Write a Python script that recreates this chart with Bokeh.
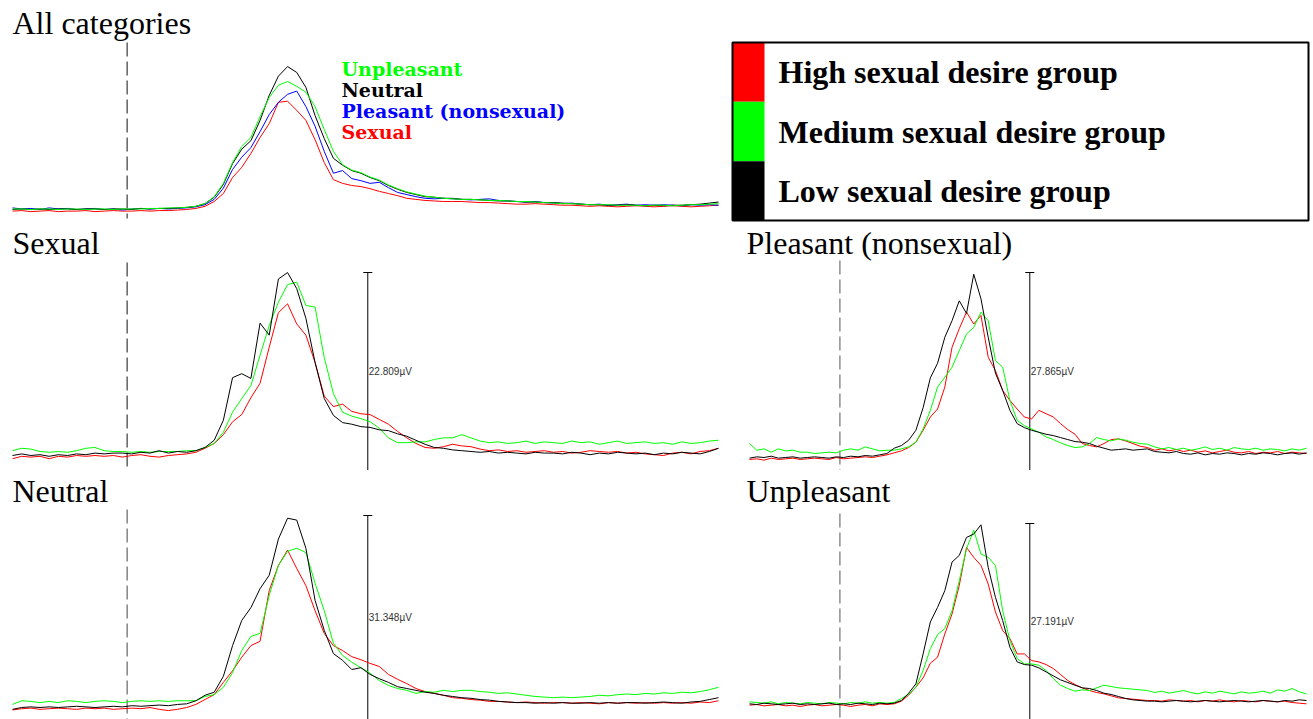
from bokeh.plotting import figure
from bokeh.layouts import column, row
from bokeh.models import Range1d, Label
from bokeh.core.properties import value
from bokeh.embed import file_html
from bokeh.resources import INLINE

# Sample times of the averaged epochs (ms, stimulus onset at 0)
TIME_MS = list(range(-200, 1033, 16))

# "All categories": grand averages per picture category (µV)
ALL_UNPLEASANT = [
    0.1, 0.1, 0.0, 0.1, 0.1, 0.0, 0.1, 0.1, 0.0, 0.1,
    0.1, 0.0, 0.1, 0.1, 0.1, 0.2, 0.2, 0.3, 0.3, 0.4,
    0.6, 1.1, 2.4, 4.9, 8.8, 11.8, 13.5, 17.4, 21.0, 23.3,
    24.0, 23.1, 22.0, 19.3, 15.0, 10.9, 8.4, 7.4, 6.9, 6.1,
    5.5, 4.6, 3.9, 3.3, 2.9, 2.5, 2.3, 2.1, 2.0, 1.9,
    1.9, 1.8, 1.7, 1.7, 1.6, 1.5, 1.5, 1.4, 1.3, 1.2,
    1.1, 1.1, 1.0, 0.9, 0.9, 0.9, 0.8, 0.8, 0.8, 0.7,
    0.8, 0.8, 0.7, 0.8, 0.9, 0.9, 1.0, 1.1]
ALL_NEUTRAL = [
    0.0, 0.1, 0.0, 0.1, 0.0, 0.1, 0.1, 0.0, 0.1, 0.1,
    0.0, 0.1, 0.1, 0.0, 0.2, 0.1, 0.2, 0.2, 0.3, 0.4,
    0.6, 1.1, 2.3, 4.7, 8.6, 11.3, 12.9, 16.7, 21.4, 25.0,
    26.8, 25.7, 22.9, 17.6, 13.3, 9.6, 8.3, 7.3, 6.8, 6.0,
    5.4, 4.5, 3.8, 3.2, 2.8, 2.4, 2.3, 2.1, 2.1, 1.9,
    1.9, 1.8, 1.7, 1.6, 1.6, 1.5, 1.4, 1.4, 1.3, 1.3,
    1.2, 1.1, 1.0, 0.9, 0.9, 0.8, 0.8, 0.9, 0.8, 0.7,
    0.8, 0.7, 0.8, 0.8, 0.9, 1.0, 1.2, 1.4]
ALL_PLEASANT = [
    0.3, 0.1, 0.2, 0.0, 0.3, 0.1, 0.2, 0.0, 0.1, 0.2,
    0.0, 0.1, -0.1, 0.1, 0.2, 0.1, 0.2, 0.1, 0.2, 0.3,
    0.5, 0.9, 1.9, 4.0, 7.5, 9.8, 11.6, 14.6, 17.8, 20.1,
    21.6, 22.2, 19.3, 15.6, 10.9, 6.8, 7.3, 5.8, 5.4, 4.9,
    5.1, 4.1, 3.2, 2.8, 2.4, 2.1, 2.0, 2.1, 2.0, 1.9,
    1.8, 1.9, 2.0, 1.7, 1.6, 1.5, 1.4, 1.5, 1.3, 1.2,
    1.1, 1.2, 1.0, 0.9, 1.0, 0.8, 0.9, 1.0, 0.8, 0.9,
    0.8, 0.9, 0.8, 0.7, 0.9, 0.8, 0.9, 0.8]
ALL_SEXUAL = [
    -0.3, -0.2, -0.4, -0.3, -0.2, -0.4, -0.3, -0.3, -0.2, -0.4,
    -0.3, -0.2, -0.3, -0.3, -0.2, -0.3, -0.2, -0.2, -0.1, 0.0,
    0.2, 0.6, 1.5, 3.0, 6.0, 7.9, 10.5, 13.5, 16.1, 20.1,
    20.3, 18.6, 16.7, 13.1, 8.8, 5.6, 4.9, 4.5, 4.3, 3.9,
    3.4, 3.0, 2.6, 2.1, 1.9, 1.7, 1.6, 1.5, 1.5, 1.5,
    1.4, 1.3, 1.3, 1.2, 1.1, 1.0, 1.0, 1.1, 1.0, 0.9,
    0.8, 0.8, 0.7, 0.6, 0.7, 0.6, 0.5, 0.6, 0.7, 0.6,
    0.5, 0.6, 0.7, 0.6, 0.5, 0.6, 0.7, 0.8]

# Sexual pictures, by desire group (µV)
SEXUAL_HIGH = [
    -0.4, -0.1, -0.2, -0.1, -0.4, -0.1, -0.2, 0.0, -0.1, 0.0,
    -0.1, 0.0, -0.2, 0.0, 0.1, -0.1, -0.2, 0.0, 0.1, 0.2,
    0.4, 0.9, 1.5, 2.6, 4.2, 5.1, 7.2, 9.0, 13.5, 17.8,
    18.9, 16.4, 15.0, 11.6, 7.4, 6.1, 6.4, 5.5, 5.2, 5.1,
    4.5, 3.9, 3.0, 2.2, 1.5, 1.0, 0.9, 1.1, 1.4, 1.2,
    1.1, 0.8, 0.6, 0.7, 0.5, 0.6, 0.4, 0.5, 0.6, 0.4,
    0.5, 0.3, 0.4, 0.6, 0.5, 0.4, 0.5, 0.3, 0.4, 0.2,
    0.1, 0.0, 0.3, 0.4, 0.2, 0.5, 0.6, 0.9]
SEXUAL_MEDIUM = [
    0.6, 0.9, 0.8, 0.5, 0.4, 0.5, 0.4, 0.6, 0.9, 1.0,
    0.6, 0.5, 0.5, 0.4, 0.5, 0.4, 0.5, 0.5, 0.5, 0.6,
    0.6, 1.0, 1.5, 2.9, 5.4, 7.1, 8.7, 12.5, 16.2, 19.1,
    21.3, 21.6, 18.7, 18.5, 12.2, 7.7, 5.4, 4.9, 4.6, 4.2,
    3.4, 2.2, 1.6, 1.6, 1.7, 1.7, 2.0, 2.2, 2.2, 2.6,
    2.2, 1.8, 1.6, 1.7, 1.5, 1.6, 1.8, 1.5, 1.7, 1.6,
    1.5, 1.8, 1.6, 1.7, 1.4, 1.6, 1.8, 1.5, 1.6, 1.7,
    1.5, 1.6, 1.4, 1.7, 1.5, 1.6, 1.8, 1.9]
SEXUAL_LOW = [
    0.0, 0.2, 0.0, 0.1, -0.1, 0.1, 0.0, 0.2, 0.1, 0.3,
    0.2, 0.3, 0.3, 0.2, 0.4, 0.3, 0.6, 0.3, 0.5, 0.4,
    0.6, 1.0, 1.9, 4.4, 9.7, 10.2, 9.6, 16.5, 15.0, 22.0,
    22.8, 20.8, 17.1, 11.6, 7.1, 5.0, 4.1, 3.9, 3.6, 3.5,
    3.2, 3.1, 2.7, 2.4, 1.9, 1.4, 1.0, 0.9, 0.7, 0.6,
    0.5, 0.4, 0.5, 0.3, 0.4, 0.3, 0.2, 0.4, 0.3, 0.3,
    0.2, 0.4, 0.3, 0.1, 0.3, 0.2, 0.4, 0.3, 0.2, 0.3,
    0.1, 0.3, 0.2, 0.4, 0.3, 0.2, 0.5, 0.9]

# Pleasant (nonsexual) pictures, by desire group (µV)
PLEASANT_HIGH = [
    -0.3, -0.2, -0.4, -0.1, -0.3, -0.2, -0.1, -0.3, -0.2, -0.1,
    -0.2, -0.3, 0.0, -0.2, -0.1, 0.0, 0.1, 0.0, 0.2, 0.4,
    0.7, 1.0, 1.5, 2.3, 4.1, 6.1, 7.3, 10.6, 16.6, 19.4,
    21.9, 20.1, 21.4, 15.1, 13.1, 10.1, 8.6, 7.3, 6.1, 5.8,
    7.1, 6.6, 6.1, 5.1, 4.2, 3.5, 2.1, 1.8, 1.6, 2.1,
    2.7, 2.8, 2.5, 2.1, 1.7, 1.5, 1.1, 1.3, 1.0, 1.2,
    0.9, 1.1, 0.8, 1.0, 0.7, 0.9, 1.1, 0.8, 0.7, 0.9,
    0.6, 0.8, 0.7, 0.9, 0.6, 0.8, 0.7, 0.6]
PLEASANT_MEDIUM = [
    2.1, 1.1, 1.3, 0.8, 1.3, 1.0, 1.1, 0.8, 0.8, 0.6,
    0.7, 0.8, 0.7, 1.1, 1.3, 1.1, 1.6, 1.3, 1.0, 1.1,
    1.1, 1.3, 1.6, 2.3, 4.3, 7.1, 10.6, 12.1, 13.6, 16.1,
    18.6, 19.6, 21.9, 20.6, 14.6, 13.6, 8.6, 5.6, 4.8, 4.3,
    3.8, 3.1, 2.7, 2.2, 1.8, 1.5, 1.6, 2.1, 3.0, 2.7,
    2.5, 2.8, 2.6, 2.3, 2.1, 2.0, 1.6, 1.3, 1.5, 1.2,
    1.4, 1.1, 1.3, 1.6, 1.2, 1.4, 1.1, 1.5, 1.3, 1.2,
    1.4, 1.1, 1.3, 1.2, 1.0, 1.3, 1.1, 1.4]
PLEASANT_LOW = [
    -0.1, 0.1, 0.0, 0.2, -0.1, 0.0, 0.1, -0.1, 0.0, 0.1,
    0.0, -0.1, 0.1, 0.0, 0.2, 0.1, 0.3, 0.2, 0.4, 0.6,
    1.4, 1.8, 2.6, 4.1, 7.5, 12.0, 14.2, 18.1, 20.6, 23.6,
    21.7, 27.6, 23.9, 18.1, 12.7, 10.1, 7.1, 5.1, 4.5, 4.1,
    3.8, 3.5, 3.3, 3.0, 2.7, 2.4, 2.3, 2.1, 1.7, 1.4,
    1.1, 1.2, 1.3, 1.1, 1.2, 1.3, 0.9, 0.8, 0.7, 0.9,
    0.6, 0.5, 0.7, 0.4, 0.6, 0.5, 0.7, 0.6, 0.4, 0.6,
    0.5, 0.7, 0.6, 0.4, 0.6, 0.7, 0.5, 0.7]

# Neutral pictures, by desire group (µV)
NEUTRAL_HIGH = [
    -0.4, -0.2, -0.1, -0.3, -0.2, -0.1, -0.2, -0.3, -0.1, -0.2,
    -0.1, -0.3, -0.2, -0.1, -0.2, 0.0, -0.3, -0.5, -0.3, 0.0,
    0.5, 1.3, 2.1, 4.1, 6.0, 8.2, 10.1, 10.8, 19.1, 23.2,
    25.7, 22.7, 19.9, 15.8, 12.1, 10.1, 9.3, 8.3, 7.8, 7.2,
    6.7, 5.4, 4.6, 3.9, 3.1, 2.6, 2.3, 2.0, 1.6, 1.5,
    1.3, 1.2, 1.0, 1.0, 0.9, 0.8, 0.9, 0.8, 0.7, 0.8,
    0.8, 0.7, 0.8, 0.7, 0.6, 0.8, 0.7, 0.8, 0.7, 0.8,
    0.7, 0.8, 0.7, 0.8, 0.7, 0.9, 0.8, 1.1]
NEUTRAL_MEDIUM = [
    0.5, 1.1, 1.0, 0.8, 1.0, 0.8, 1.1, 1.0, 0.8, 1.0,
    1.1, 1.0, 0.8, 1.0, 1.1, 1.0, 1.1, 1.0, 1.1, 1.1,
    1.1, 1.8, 2.1, 3.3, 5.7, 9.3, 11.6, 12.1, 18.3, 23.2,
    25.5, 26.0, 25.3, 20.3, 15.8, 10.5, 8.5, 7.4, 6.5, 5.6,
    4.4, 3.6, 3.1, 2.8, 2.3, 2.6, 2.5, 2.8, 2.6, 2.8,
    2.8, 2.6, 2.5, 2.3, 2.4, 2.2, 2.0, 1.8, 1.7, 1.6,
    1.7, 1.6, 1.7, 1.8, 2.0, 1.9, 2.1, 2.2, 2.1, 2.3,
    2.2, 2.4, 2.3, 2.5, 2.4, 2.6, 2.9, 3.3]
NEUTRAL_LOW = [
    -0.3, 0.0, 0.1, 0.0, 0.1, 0.0, 0.1, 0.2, 0.1, 0.0,
    0.1, 0.2, 0.1, 0.3, 0.2, 0.3, 0.4, 0.3, 0.5, 0.6,
    1.1, 2.0, 2.5, 5.1, 10.1, 14.2, 16.3, 19.4, 21.6, 27.5,
    30.9, 30.6, 26.0, 17.5, 12.6, 8.8, 7.7, 6.2, 6.5, 5.4,
    4.7, 4.1, 3.4, 3.1, 2.8, 2.5, 2.3, 2.0, 1.8, 1.6,
    1.5, 1.3, 1.2, 1.0, 0.9, 0.8, 0.8, 0.7, 0.8, 0.7,
    0.8, 0.7, 0.7, 0.8, 0.7, 0.8, 0.7, 0.8, 0.8, 0.7,
    0.8, 0.9, 0.8, 0.7, 0.9, 1.0, 1.3, 1.6]

# Unpleasant pictures, by desire group (µV)
UNPLEASANT_HIGH = [
    -0.1, 0.0, -0.2, -0.1, 0.0, -0.2, -0.1, -0.3, -0.1, 0.0,
    -0.2, -0.1, 0.0, -0.1, -0.3, -0.1, 0.0, -0.2, 0.1, 0.0,
    0.1, 0.5, 1.4, 2.6, 4.0, 6.2, 7.1, 10.6, 13.6, 17.9,
    23.6, 22.1, 20.9, 18.1, 13.9, 11.1, 9.9, 7.6, 7.6, 6.6,
    6.4, 6.0, 5.4, 4.5, 3.6, 3.0, 2.5, 2.1, 1.8, 1.6,
    1.3, 1.0, 0.9, 0.8, 0.7, 0.6, 0.6, 0.5, 0.7, 0.6,
    0.5, 0.6, 0.4, 0.6, 0.5, 0.7, 0.5, 0.4, 0.6, 0.5,
    0.4, 0.6, 0.5, 0.4, 0.5, 0.3, 0.2, 0.1]
UNPLEASANT_MEDIUM = [
    0.4, 0.3, 0.2, 0.4, 0.1, 0.3, 0.2, 0.1, 0.3, 0.2,
    0.1, 0.3, 0.2, 0.1, 0.3, 0.2, 0.4, 0.2, 0.3, 0.2,
    0.3, 0.9, 1.5, 2.6, 5.1, 8.4, 10.5, 11.4, 14.1, 18.6,
    23.4, 26.2, 22.6, 22.1, 20.9, 14.1, 9.6, 6.9, 6.1, 6.1,
    5.9, 5.1, 3.9, 2.9, 2.4, 2.0, 2.2, 2.1, 2.5, 2.9,
    2.7, 2.5, 2.4, 2.3, 2.2, 2.1, 1.8, 2.0, 1.7, 1.9,
    2.1, 1.8, 1.6, 1.9, 1.7, 2.0, 1.8, 1.6, 1.9, 1.7,
    1.8, 2.0, 1.7, 2.2, 2.0, 2.4, 1.9, 1.6]
UNPLEASANT_LOW = [
    0.1, 0.0, 0.2, 0.1, 0.0, 0.1, 0.2, 0.0, 0.1, 0.0,
    0.1, 0.2, 0.0, 0.1, 0.0, 0.2, 0.1, 0.0, 0.2, 0.1,
    0.2, 0.6, 1.7, 3.1, 7.6, 12.4, 14.6, 17.1, 21.4, 22.4,
    25.1, 25.6, 27.0, 20.6, 16.1, 12.6, 8.6, 6.4, 6.0, 5.9,
    5.5, 4.9, 4.3, 3.7, 3.3, 2.9, 2.5, 2.4, 2.1, 1.7,
    1.5, 1.2, 0.9, 0.7, 0.6, 0.5, 0.5, 0.4, 0.5, 0.6,
    0.5, 0.4, 0.5, 0.6, 0.5, 0.4, 0.5, 0.6, 0.5, 0.4,
    0.5, 0.6, 0.5, 0.4, 0.6, 0.5, 0.7, 0.6]

GROUP_NAMES = ["High sexual desire group", "Medium sexual desire group",
               "Low sexual desire group"]
GROUP_COLORS = ["#ff0000", "#00ff00", "#000000"]

CATEGORY_NAMES = ["Unpleasant", "Neutral", "Pleasant (nonsexual)", "Sexual"]
CATEGORY_COLORS = ["#00ff00", "#000000", "#0000ff", "#ff0000"]

# amplitude of the calibration bar drawn in each category panel (µV)
SCALE_UV = {"Sexual": 22.809, "Pleasant (nonsexual)": 27.865,
            "Neutral": 31.348, "Unpleasant": 27.191}
SCALE_BAR_MS = 420

LEFT_W, RIGHT_W = 730, 583
ROW_H = (222, 248, 249)
SERIF = "Liberation Serif"


def panel(width, height, x_px, base_px, top_px, top_uv):
    """Figure whose frame fills the whole canvas; time/µV mapped by pixel anchors."""
    t0, t1 = TIME_MS[0], TIME_MS[-1]
    ms_per_px = (t1 - t0) / (x_px[1] - x_px[0])
    uv_per_px = top_uv / (base_px - top_px)

    def fx(px):
        return t0 + (px - x_px[0]) * ms_per_px

    def fy(py):
        return (base_px - py) * uv_per_px

    p = figure(width=width, height=height,
               x_range=Range1d(fx(0), fx(width)),
               y_range=Range1d(fy(height), fy(0)),
               x_axis_type=None, y_axis_type=None,
               toolbar_location=None, output_backend="svg",
               min_border=0, outline_line_color=None,
               background_fill_color="white", border_fill_color="white")
    return p, fx, fy


def add_title(p, fx, fy, text, x_px, mid_px):
    p.add_layout(Label(x=fx(x_px), y=fy(mid_px), text=text,
                       text_font=SERIF, text_font_size="32px",
                       text_baseline="middle", text_color="black"))


def add_onset(p, fy, top_px, bottom_px, color):
    p.segment(x0=[0], y0=[fy(top_px)], x1=[0], y1=[fy(bottom_px)],
              line_color=color, line_width=1, line_dash="14 5")


def add_scale(p, fy, uv, height):
    bottom = fy(height)
    p.segment(x0=[SCALE_BAR_MS], y0=[bottom], x1=[SCALE_BAR_MS], y1=[uv],
              line_color="black", line_width=1)
    p.scatter([SCALE_BAR_MS], [uv], marker="dash", size=9,
              line_color="black", line_width=1)
    p.add_layout(Label(x=SCALE_BAR_MS, y=(uv + bottom) / 2, text=f"{uv:.3f}µV",
                       x_offset=1, text_baseline="middle",
                       text_font="Liberation Sans", text_font_size="10px",
                       text_color="#333333"))


def group_panel(name, series, width, height, x_px, base_px, top_px,
                title_px, onset_top, onset_color):
    uv = SCALE_UV[name]
    p, fx, fy = panel(width, height, x_px, base_px, top_px, uv)
    add_onset(p, fy, onset_top, height, onset_color)
    add_scale(p, fy, uv, height)
    for vals, color in zip(series, GROUP_COLORS):
        p.line(TIME_MS, vals, line_color=color, line_width=1)
    add_title(p, fx, fy, name, title_px[0], title_px[1])
    return p


# --- all categories -------------------------------------------------------
p_all, fx_a, fy_a = panel(LEFT_W, ROW_H[0], (12, 718), 209, 65, 27.0)
add_onset(p_all, fy_a, 42, 218, "#111111")
all_series = [ALL_UNPLEASANT, ALL_NEUTRAL, ALL_PLEASANT, ALL_SEXUAL]
for vals, color in reversed(list(zip(all_series, CATEGORY_COLORS))):
    p_all.line(TIME_MS, vals, line_color=color, line_width=1)
for i, (name, color) in enumerate(zip(CATEGORY_NAMES, CATEGORY_COLORS)):
    p_all.add_layout(Label(x=fx_a(341), y=fy_a(68 + 21 * i), text=name,
                           text_font="DejaVu Serif", text_font_style="bold",
                           text_font_size="19px", text_color=color,
                           text_baseline="middle"))
add_title(p_all, fx_a, fy_a, "All categories", 12, 22)

# --- group legend ---------------------------------------------------------
leg = figure(width=RIGHT_W, height=ROW_H[0],
             x_range=Range1d(0, RIGHT_W), y_range=Range1d(ROW_H[0], 0),
             x_axis_type=None, y_axis_type=None,
             toolbar_location=None, output_backend="svg",
             min_border=0, outline_line_color=None,
             background_fill_color="white", border_fill_color="white")
box_l, box_t, box_r, box_b = 2, 42, 578, 220
row_h = (box_b - box_t) / len(GROUP_NAMES)
tops = [box_t + i * row_h for i in range(len(GROUP_NAMES))]
leg.quad(left=box_l, right=box_l + 32, top=tops,
         bottom=[t + row_h for t in tops],
         fill_color=GROUP_COLORS, line_color=None)
leg.quad(left=[box_l], right=[box_r], top=[box_t], bottom=[box_b],
         fill_color=None, line_color="black", line_width=2)
leg.text(x=box_l + 46, y=[t + row_h / 2 for t in tops], text=GROUP_NAMES,
         text_font=value(SERIF), text_font_style="bold",
         text_font_size="32px", text_baseline="middle", text_color="black")

# --- category panels by group ----------------------------------------------
p_sex = group_panel("Sexual", [SEXUAL_HIGH, SEXUAL_MEDIUM, SEXUAL_LOW],
                    LEFT_W, ROW_H[1], (12, 718), 233, 50, (12, 20), 40,
                    "#111111")
p_pl = group_panel("Pleasant (nonsexual)",
                   [PLEASANT_HIGH, PLEASANT_MEDIUM, PLEASANT_LOW],
                   RIGHT_W, ROW_H[1], (19, 576), 235, 50, (16, 20), 38,
                   "#555555")
p_neu = group_panel("Neutral", [NEUTRAL_HIGH, NEUTRAL_MEDIUM, NEUTRAL_LOW],
                    LEFT_W, ROW_H[2], (12, 718), 237, 45, (12, 20), 39,
                    "#444444")
p_un = group_panel("Unpleasant",
                   [UNPLEASANT_HIGH, UNPLEASANT_MEDIUM, UNPLEASANT_LOW],
                   RIGHT_W, ROW_H[2], (19, 576), 234, 53, (16, 20), 43,
                   "#555555")

layout = column(row(p_all, leg), row(p_sex, p_pl), row(p_neu, p_un))

with open("out.html", "w", encoding="utf-8") as fh:
    fh.write(file_html(layout, INLINE, title="ERP by sexual desire group"))
